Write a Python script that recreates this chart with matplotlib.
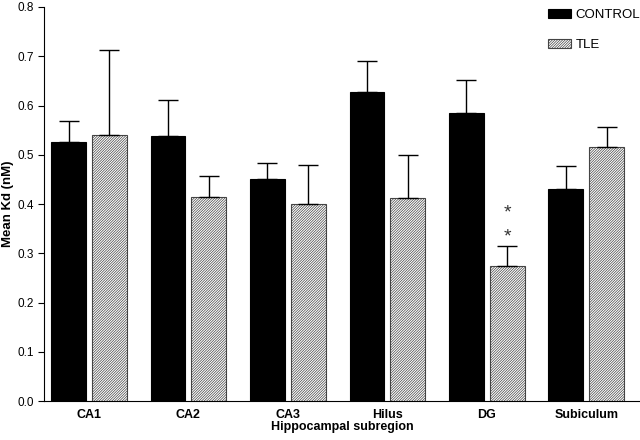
import numpy as np
import matplotlib.pyplot as plt

plt.rcParams['font.family'] = ['Liberation Sans', 'DejaVu Sans']
plt.rcParams['hatch.color'] = '#8a8a8a'
plt.rcParams['hatch.linewidth'] = 0.5

regions = ["CA1", "CA2", "CA3", "Hilus", "DG", "Subiculum"]
control_mean = [0.526, 0.538, 0.450, 0.627, 0.585, 0.430]
control_err = [0.043, 0.074, 0.033, 0.063, 0.067, 0.048]
tle_mean = [0.540, 0.414, 0.400, 0.413, 0.274, 0.515]
tle_err = [0.173, 0.043, 0.080, 0.086, 0.041, 0.042]
signif = ["", "", "", "", "**", ""]

fig = plt.figure(figsize=(6.4, 4.4), dpi=100)
ax = fig.add_axes([0.069, 0.0886, 0.931, 0.8955])

x = np.arange(len(regions))
w = 0.35
off = 0.205

ax.bar(x - off, control_mean, w, color='black', edgecolor='black', linewidth=0.8, label='CONTROL')
ax.bar(x + off, tle_mean, w, color='white', edgecolor='#444444', hatch='/' * 13, linewidth=0.8, label='TLE')

ax.errorbar(x - off, control_mean, yerr=[np.zeros(len(x)), control_err], fmt='none',
            ecolor='black', elinewidth=1, capsize=7, capthick=1)
ax.errorbar(x + off, tle_mean, yerr=[np.zeros(len(x)), tle_err], fmt='none',
            ecolor='black', elinewidth=1, capsize=7, capthick=1)

for i, s in enumerate(signif):
    top = tle_mean[i] + tle_err[i]
    for k in range(len(s)):
        ax.text(x[i] + off, top + k * 0.049, '*', ha='center', va='bottom', fontsize=14, color='#333333')

ax.set_xlim(-0.45, 5.54)
ax.set_ylim(0, 0.8)
ax.set_yticks(np.arange(0, 0.81, 0.1))
ax.set_yticklabels([f"{v:.1f}" for v in np.arange(0, 0.81, 0.1)], fontsize=8.5)
ax.set_xticks(x)
ax.set_xticklabels(regions, fontsize=9, fontweight='bold')
ax.tick_params(axis='x', length=0, pad=6)
ax.tick_params(axis='y', length=4, direction='out')
ax.spines['top'].set_visible(False)
ax.spines['right'].set_visible(False)
ax.set_xlabel('Hippocampal subregion', fontsize=9, fontweight='bold', labelpad=0)
ax.set_ylabel('Mean Kd (nM)', fontsize=9.5, fontweight='bold', labelpad=2)

ax.legend(loc='upper right', bbox_to_anchor=(1.02, 1.025), frameon=False, fontsize=9.5,
          handlelength=1.75, handleheight=0.65, labelspacing=1.35, handletextpad=0.3)

fig.savefig('out.png', dpi=100)
